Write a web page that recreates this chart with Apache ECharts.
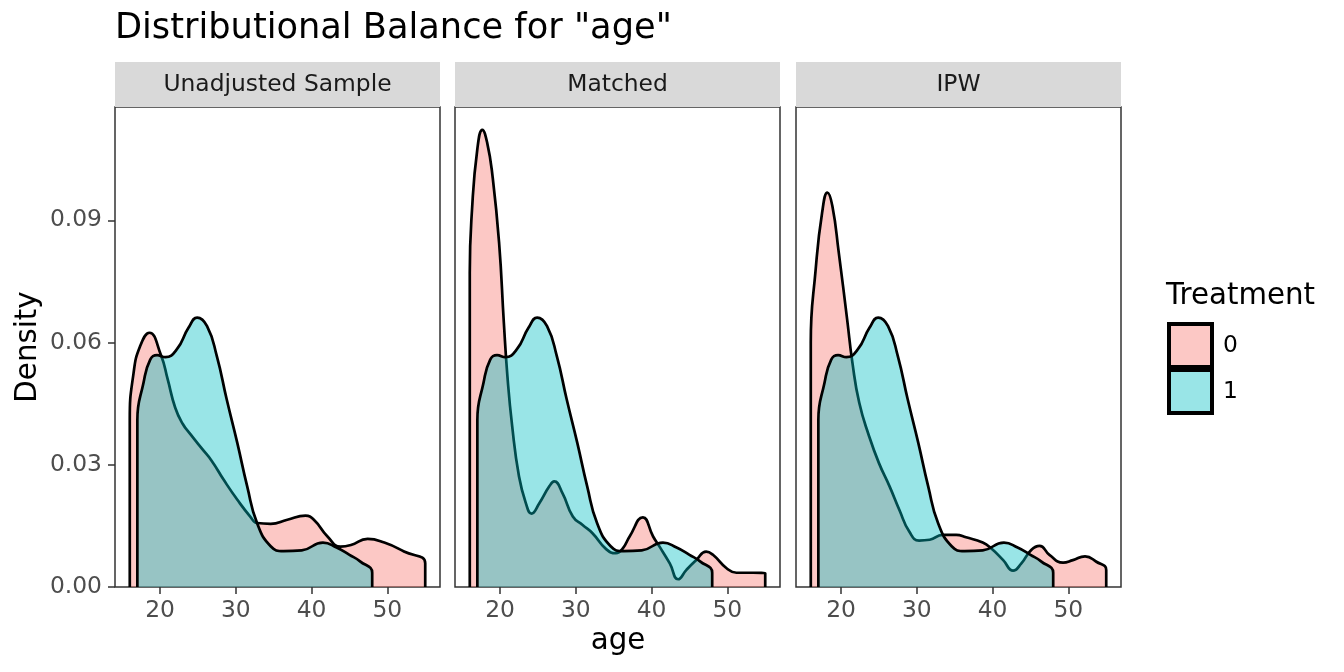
<!DOCTYPE html>
<html>
<head>
<meta charset="utf-8">
<script src="https://cdn.jsdelivr.net/npm/echarts@6/dist/echarts.min.js"></script>
<style>
html,body{margin:0;padding:0;background:#ffffff;}
#chart{width:1344px;height:672px;}
</style>
</head>
<body>
<div id="chart"></div>
<script>
// ---------- data ----------
const panelNames = ['Unadjusted Sample', 'Matched', 'IPW'];
const groupNames = ['0', '1'];
const xTickValues = [20, 30, 40, 50];
const yTickValues = [0, 0.03, 0.06, 0.09];

// treated group (1): identical in all panels
const ageTreat  = [17, 17, 17.8, 18.7, 19.6, 20.7, 22.2, 23.75, 24.9, 26.2, 27.5, 28.8, 30.2, 31.5, 32.8, 34.6, 36.3, 38.7, 41.5, 43.3, 45.0, 46.4, 48, 48];
const densTreat = [0, 0.041, 0.050, 0.0558, 0.0569, 0.0564, 0.0583, 0.0636, 0.0661, 0.0640, 0.0566, 0.0460, 0.0353, 0.0247, 0.0157, 0.0100, 0.0088, 0.0090, 0.0109, 0.0097, 0.0079, 0.0063, 0.0035, 0];

// control group (0), unadjusted sample
const ageUnadj0  = [16, 16, 16.5, 17.35, 18.6, 20.1, 21.0, 22.0, 23.0, 24.0, 25.5, 26.8, 28.4, 30.2, 31.9, 32.8, 34.6, 36.8, 39.2, 40.3, 42.1, 43.8, 45.2, 47.4, 49.6, 52.2, 55, 55];
const densUnadj0 = [0, 0.041, 0.0525, 0.059, 0.0624, 0.057, 0.051, 0.044, 0.040, 0.0375, 0.034, 0.031, 0.0263, 0.0214, 0.0173, 0.0157, 0.0155, 0.0165, 0.0175, 0.0165, 0.0124, 0.0099, 0.0103, 0.0118, 0.0109, 0.0087, 0.0058, 0];

// control group (0), matched
const ageMatch0  = [16, 16, 16.3, 17.0, 17.66, 18.3, 19.0, 19.87, 20.5, 20.97, 21.6, 22.5, 23.4, 24.15, 25.2, 26.5, 27.15, 28.25, 29.6, 30.9, 32.2, 34.0, 35.3, 36.2, 37.1, 38.85, 40.2, 41.05, 42.4, 43.5, 44.6, 45.9, 47.2, 48.1, 49.9, 51.2, 53.4, 55, 55];
const densMatch0 = [0, 0.077, 0.0927, 0.1075, 0.1122, 0.109, 0.1009, 0.0845, 0.0648, 0.0517, 0.0394, 0.0271, 0.0206, 0.0180, 0.0206, 0.0247, 0.0259, 0.0230, 0.0173, 0.0152, 0.0132, 0.0093, 0.0083, 0.0095, 0.0124, 0.0171, 0.0124, 0.0099, 0.0058, 0.0019, 0.0042, 0.0066, 0.0087, 0.0079, 0.0046, 0.0035, 0.0035, 0.0034, 0];

// control group (0), IPW
const ageIpw0  = [16, 16, 16.65, 17.5, 18.2, 18.85, 19.7, 20.8, 21.5, 22.4, 23.7, 25.0, 26.4, 27.7, 29.0, 30.3, 31.7, 33.4, 35.2, 36.5, 38.7, 39.8, 41.4, 42.7, 43.8, 45.1, 46.2, 47.5, 49.3, 50.6, 52.2, 53.7, 55, 55];
const densIpw0 = [0, 0.060, 0.078, 0.0919, 0.0968, 0.0935, 0.082, 0.0657, 0.055, 0.0452, 0.037, 0.0304, 0.0247, 0.0189, 0.0136, 0.0114, 0.0116, 0.0128, 0.0128, 0.0122, 0.0109, 0.0095, 0.0066, 0.0040, 0.0058, 0.0091, 0.0101, 0.0079, 0.0060, 0.0066, 0.0075, 0.0062, 0.0042, 0];

// ---------- build ----------
const FONT = 'DejaVu Sans';
const SMALL = 23.4, MID = 29.3, BIG = 35.2;
const fill0 = 'rgba(248,118,109,0.4)';
const fill1 = 'rgba(0,191,196,0.4)';
const zip = (xs, ys) => xs.map((x, i) => [x, ys[i]]);
const controlSets = [[ageUnadj0, densUnadj0], [ageMatch0, densMatch0], [ageIpw0, densIpw0]];

const gridLefts = [115, 455, 796];
const gridW = 325, gridTop = 107, gridH = 480;

const grids = [], xAxes = [], yAxes = [], series = [], graphics = [];
panelNames.forEach((name, i) => {
  grids.push({left: gridLefts[i], top: gridTop, width: gridW, height: gridH, show: true,
    borderColor: '#333333', borderWidth: 1.5, backgroundColor: 'transparent', containLabel: false});
  xAxes.push({type: 'value', gridIndex: i, min: 14.05, max: 56.95,
    axisLine: {show: false}, splitLine: {show: false},
    axisTick: {show: true, customValues: xTickValues, length: 7, lineStyle: {color: '#333333', width: 1.5}},
    axisLabel: {customValues: xTickValues, color: '#4D4D4D', fontSize: SMALL, fontFamily: FONT, margin: 12}});
  yAxes.push({type: 'value', gridIndex: i, min: 0, max: 0.1178,
    axisLine: {show: false}, splitLine: {show: false},
    axisTick: {show: i === 0, customValues: yTickValues, length: 7, lineStyle: {color: '#333333', width: 1.5}},
    axisLabel: {show: i === 0, customValues: yTickValues, color: '#4D4D4D', fontSize: SMALL, fontFamily: FONT, margin: 13,
      formatter: v => v.toFixed(2)}});
  const [ax, dy] = controlSets[i];
  series.push({type: 'line', name: groupNames[0], xAxisIndex: i, yAxisIndex: i, z: 2,
    data: zip(ax, dy), smooth: 0.5, symbol: 'none', silent: true,
    lineStyle: {color: '#000000', width: 2.7}, itemStyle: {color: fill0},
    areaStyle: {color: fill0, opacity: 1}});
  series.push({type: 'line', name: groupNames[1], xAxisIndex: i, yAxisIndex: i, z: 3,
    data: zip(ageTreat, densTreat), smooth: 0.5, symbol: 'none', silent: true,
    lineStyle: {color: '#000000', width: 2.7}, itemStyle: {color: fill1},
    areaStyle: {color: fill1, opacity: 1}});
  // facet strip
  graphics.push({type: 'rect', shape: {x: gridLefts[i], y: 62, width: gridW, height: 45}, style: {fill: '#D9D9D9'}});
  graphics.push({type: 'text', x: gridLefts[i] + gridW / 2, y: 85,
    style: {text: name, fill: '#1A1A1A', fontSize: SMALL, fontFamily: FONT, align: 'center', verticalAlign: 'middle'}});
});

// title, axis titles, legend title
graphics.push({type: 'text', x: 115, y: 29,
  style: {text: 'Distributional Balance for "age"', fill: '#000000', fontSize: BIG, fontFamily: FONT, align: 'left', verticalAlign: 'middle'}});
graphics.push({type: 'text', x: 618, y: 641,
  style: {text: 'age', fill: '#000000', fontSize: MID, fontFamily: FONT, align: 'center', verticalAlign: 'middle'}});
graphics.push({type: 'text', x: 28, y: 347, rotation: Math.PI / 2,
  style: {text: 'Density', fill: '#000000', fontSize: MID, fontFamily: FONT, align: 'center', verticalAlign: 'middle'}});
graphics.push({type: 'text', x: 1166, y: 296,
  style: {text: 'Treatment', fill: '#000000', fontSize: MID, fontFamily: FONT, align: 'left', verticalAlign: 'middle'}});

const option = {
  animation: false,
  backgroundColor: '#ffffff',
  grid: grids,
  xAxis: xAxes,
  yAxis: yAxes,
  series: series,
  legend: {
    orient: 'vertical', left: 1167, top: 322, padding: 0,
    itemWidth: 43, itemHeight: 43, itemGap: -1, icon: 'rect', selectedMode: false,
    textStyle: {color: '#000000', fontSize: SMALL, fontFamily: FONT, padding: [0, 0, 0, 6]},
    data: [
      {name: groupNames[0], itemStyle: {color: fill0, borderColor: '#000000', borderWidth: 4}},
      {name: groupNames[1], itemStyle: {color: fill1, borderColor: '#000000', borderWidth: 4}}
    ]
  },
  graphic: graphics
};

const chart = echarts.init(document.getElementById('chart'), null, {renderer: 'canvas'});
chart.setOption(option);
</script>
</body>
</html>
